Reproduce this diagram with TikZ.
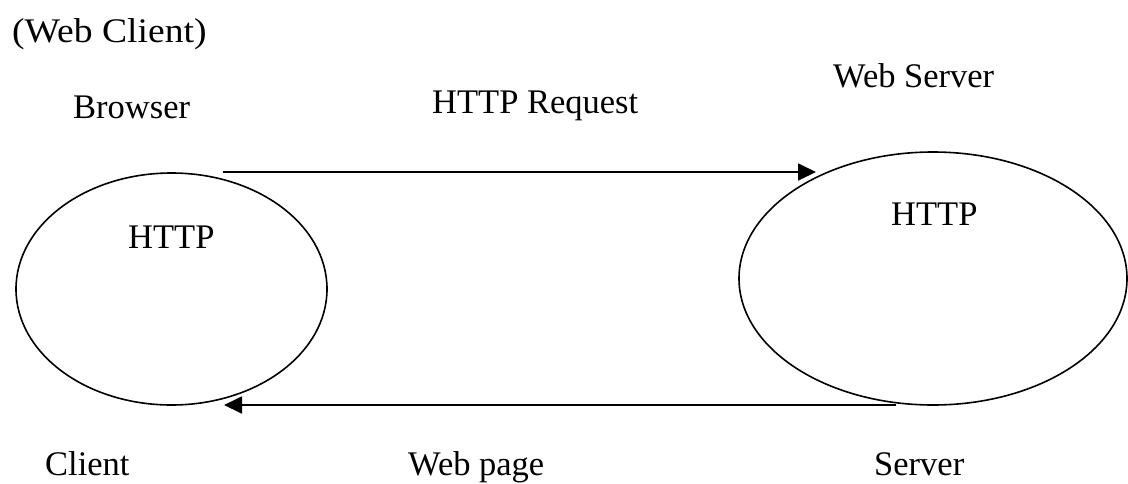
\documentclass[tikz,border=0pt]{standalone}
\usepackage{fontspec}
\setmainfont{Liberation Serif}
\usetikzlibrary{shapes.geometric,arrows.meta}
\begin{document}
\begin{tikzpicture}[x=1pt,y=-1pt,
  lbl/.style={anchor=base west,inner sep=0pt,font=\fontsize{34.5}{40}\selectfont},
  blob/.style={draw,ellipse,line width=1.6pt,inner sep=0pt},
  arr/.style={line width=1.8pt,-{Triangle[length=18pt,width=17pt]}}]
\useasboundingbox (0,0) rectangle (1128,483);
\node[blob,minimum width=311pt,minimum height=232pt] (client) at (171.5,289) {};
\node[blob,minimum width=388pt,minimum height=253pt] (server) at (933,278.5) {};
\node[lbl] (webclient) at (12,42) {\scalebox{1.09}[1]{(Web Client)}};
\node[lbl] (browser) at (73,118) {Browser};
\node[lbl] (req) at (432,113) {HTTP Request};
\node[lbl] (webserver) at (833,87) {Web Server};
\node[lbl] (h1) at (128,248) {HTTP};
\node[lbl] (h2) at (891,225) {HTTP};
\node[lbl] (cl) at (45,475) {Client};
\node[lbl] (wp) at (408,475) {Web page};
\node[lbl] (sv) at (874,475) {Server};
\coordinate (reqs) at (223,172);
\coordinate (reqe) at (816,172);
\coordinate (resps) at (896,405);
\coordinate (respe) at (224,405);
\draw[arr] (reqs) -- (reqe);
\draw[arr] (resps) -- (respe);
\end{tikzpicture}
\end{document}
